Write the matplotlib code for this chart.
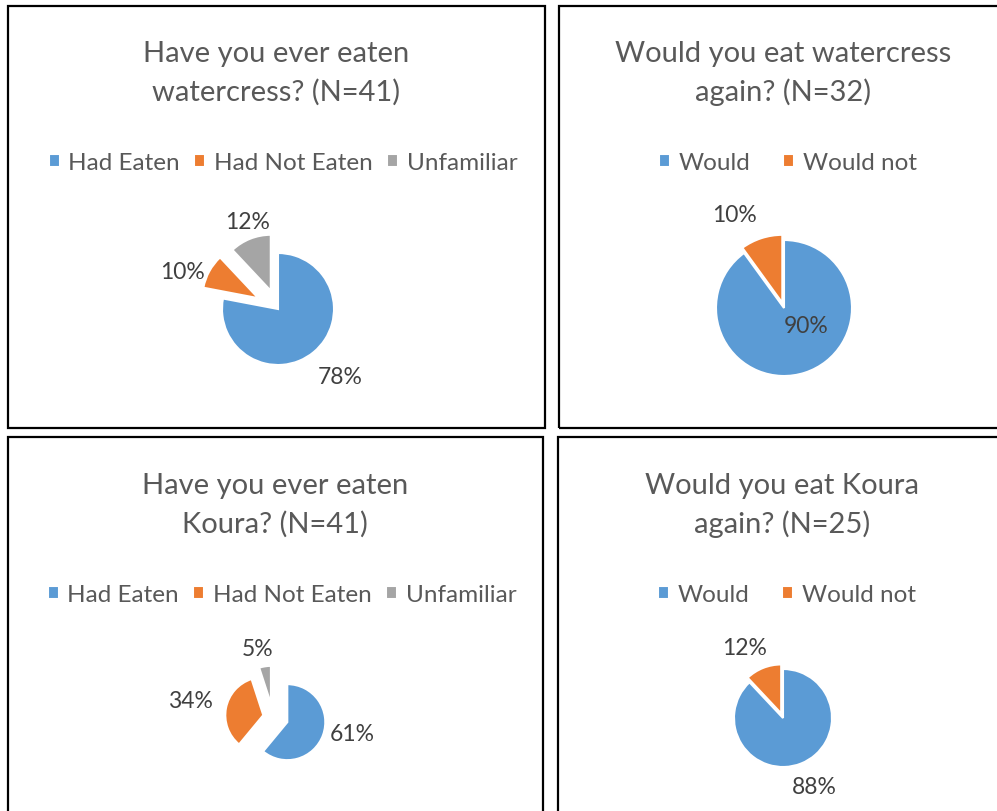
import numpy as np
import matplotlib.pyplot as plt
from matplotlib.patches import Rectangle

W, H = 997, 811

plt.rcParams['font.family'] = ['Lato', 'DejaVu Sans']

# survey answers, percent of respondents
eaten_labels = ['Had Eaten', 'Had Not Eaten', 'Unfamiliar']
again_labels = ['Would', 'Would not']
watercress_eaten = [78, 10, 12]
watercress_again = [90, 10]
koura_eaten = [61, 34, 5]
koura_again = [88, 12]

colors = ['#5B9BD5', '#ED7D31', '#A5A5A5']
title_color = '#595959'
label_color = '#404040'

fig = plt.figure(figsize=(W / 100, H / 100), dpi=100)
ax = fig.add_axes([0, 0, 1, 1])
ax.set_xlim(0, W)
ax.set_ylim(0, H)


def py(y):
    # work in pixel rows measured from the top
    return H - y


# layout of each chart box: frame, title, pie, label placement, legend
panels = [
    dict(values=watercress_eaten, labels=eaten_labels,
         title=('Have you ever eaten', 'watercress? (N=41)'),
         box=(8, 6, 545, 428), title_x=276, title_y=(62, 101),
         center=(278, 309), r=56, explode=[0, 0.4, 0.35],
         lab=[(1.66, -2.5), (1.82, -8), (1.64, 2)],
         legend=(283, 163), colspace=0.6),
    dict(values=watercress_again, labels=again_labels,
         title=('Would you eat watercress', 'again? (N=32)'),
         box=(559, 6, 1003, 428), title_x=783, title_y=(62, 101),
         center=(784, 308), r=68, explode=[0, 0.08],
         lab=[(0.42, -32), (1.54, -10)],
         legend=(788, 163), colspace=1.35),
    dict(values=koura_eaten, labels=eaten_labels,
         title=('Have you ever eaten', 'Koura? (N=41)'),
         box=(8, 437, 543, 815), title_x=275, title_y=(494, 533),
         center=(273, 717), r=38, explode=[0.4, 0.26, 0.35],
         lab=[(2.13, -7), (2.22, 0), (1.81, -3.6)],
         legend=(282, 595), colspace=0.6),
    dict(values=koura_again, labels=again_labels,
         title=('Would you eat Koura', 'again? (N=25)'),
         box=(558, 437, 1003, 815), title_x=782, title_y=(494, 533),
         center=(783, 718), r=49, explode=[0, 0.1],
         lab=[(1.55, -3), (1.63, -7.5)],
         legend=(787, 595), colspace=1.35),
]

for p in panels:
    x0, y0, x1, y1 = p['box']
    ax.add_patch(Rectangle((x0, py(y1)), x1 - x0, y1 - y0, fill=False,
                           edgecolor='black', lw=1.6, clip_on=False))

    for line, ty in zip(p['title'], p['title_y']):
        ax.text(p['title_x'], py(ty), line, ha='center', va='baseline',
                fontsize=21, color=title_color)

    cx, cy = p['center'][0], py(p['center'][1])
    r = p['r']
    vals = p['values']
    # explode is given as a fraction of the radius, pie wants data units
    wedges, _ = ax.pie(vals, colors=colors[:len(vals)], startangle=90,
                       counterclock=False, center=(cx, cy), radius=r,
                       explode=[e * r for e in p['explode']], frame=True,
                       wedgeprops=dict(edgecolor='white', linewidth=1.5))

    # percentage labels along each slice's mid angle
    for w, (dist, nudge), v in zip(wedges, p['lab'], vals):
        phi = np.deg2rad((w.theta1 + w.theta2) / 2 - nudge)
        ax.text(cx + dist * r * np.cos(phi), cy + dist * r * np.sin(phi),
                f'{v}%', ha='center', va='center', fontsize=16.5, color=label_color)

    lx, ly = p['legend']
    fig.legend(wedges, p['labels'], loc='center',
               bbox_to_anchor=(lx / W, 1 - ly / H), ncol=len(vals),
               frameon=False, fontsize=17.5, handlelength=0.45, handleheight=0.45,
               handletextpad=0.35, columnspacing=p['colspace'],
               labelcolor=title_color, borderpad=0)

ax.set_xlim(0, W)
ax.set_ylim(0, H)
ax.set_aspect('equal')
ax.axis('off')

fig.savefig('out.png', dpi=100)
